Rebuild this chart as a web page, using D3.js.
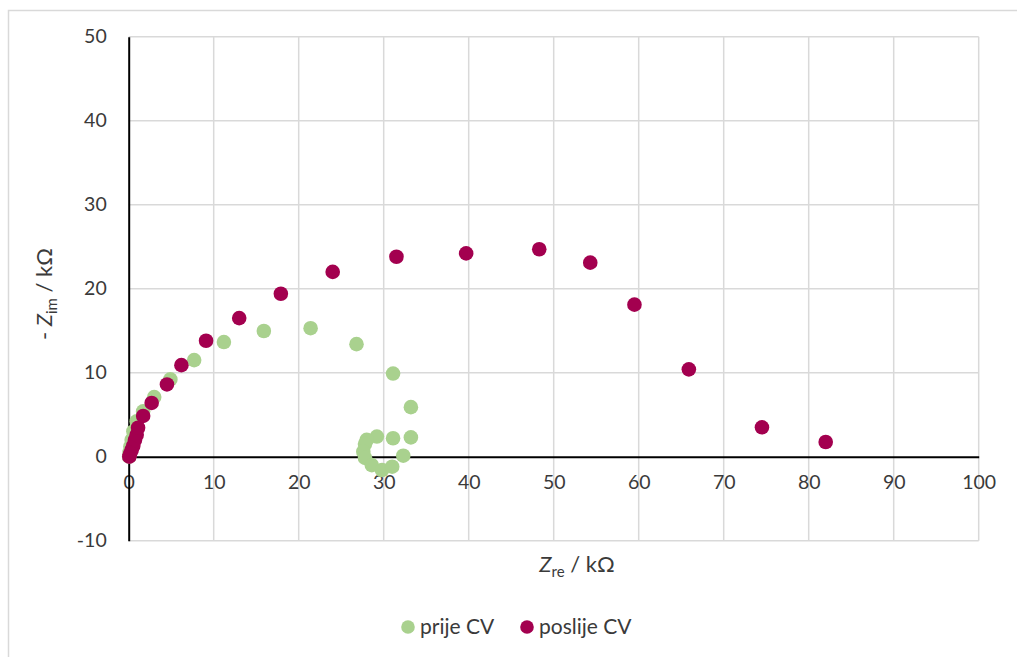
<!DOCTYPE html>
<html><head><meta charset="utf-8">
<script src="https://cdn.jsdelivr.net/npm/d3@7"></script>
<style>body{margin:0;background:#fff;font-family:Lato,"Open Sans",sans-serif}</style>
</head><body><svg id="c" width="1017" height="657"></svg>
<script>
const xTicks=[0,10,20,30,40,50,60,70,80,90,100];
const yTicks=[-10,0,10,20,30,40,50];
const seriesNames=["prije CV","poslije CV"];
const prijeX=[0.05,0.1,0.2,0.35,0.55,0.94,1.7,3.0,4.9,7.7,11.2,15.9,21.4,26.8,31.1,33.2,33.2,31.1,29.2,28.0,27.8,27.6,27.8,28.6,29.8,31.0,32.3];
const prijeY=[0.0,0.5,1.2,2.0,3.0,4.2,5.4,7.1,9.2,11.5,13.65,14.96,15.3,13.4,9.9,5.9,2.3,2.2,2.4,2.0,1.5,0.6,-0.15,-1.0,-1.58,-1.19,0.12];
const poslijeX=[0.07,0.15,0.35,0.54,0.74,0.94,1.1,1.7,2.7,4.5,6.2,9.1,13.0,17.9,24.0,31.5,39.7,48.3,54.3,59.5,65.9,74.5,82.0];
const poslijeY=[0.0,0.3,0.8,1.3,2.0,2.6,3.45,4.85,6.4,8.6,10.9,13.8,16.5,19.4,22.0,23.8,24.2,24.7,23.1,18.1,10.4,3.5,1.75];
const colors=["#a9d18e","#a3004f"];

const svg=d3.select("#c");
svg.append("rect").attr("x",8.5).attr("y",10.5).attr("width",1030).attr("height",680).attr("fill","none").attr("stroke","#d9d9d9").attr("stroke-width",1.5);

const x=d3.scaleLinear().domain([0,100]).range([128.7,978.7]);
const y=d3.scaleLinear().domain([-10,50]).range([540.7,36.7]);

const g=svg.append("g");
g.selectAll(".vg").data(xTicks.filter(d=>d>0)).join("line")
 .attr("x1",d=>x(d)).attr("x2",d=>x(d)).attr("y1",y(50)).attr("y2",y(-10))
 .attr("stroke","#d9d9d9").attr("stroke-width",1.5);
g.selectAll(".hg").data(yTicks.filter(d=>d!==0)).join("line")
 .attr("x1",x(0)).attr("x2",x(100)).attr("y1",d=>y(d)).attr("y2",d=>y(d))
 .attr("stroke","#d9d9d9").attr("stroke-width",1.5);

const fmt=d=>String(d);
const xAxis=d3.axisBottom(x).tickValues(xTicks).tickFormat(fmt).tickSize(0).tickPadding(18);
const xg=svg.append("g").attr("transform",`translate(0,${y(0)})`).call(xAxis);
xg.select(".domain").attr("stroke","#000").attr("stroke-width",2);
xg.selectAll("text").attr("font-size",19.5).attr("fill","#3a3a3a").attr("font-family","Lato,'Open Sans',sans-serif");

const yAxis=d3.axisLeft(y).tickValues(yTicks).tickFormat(fmt).tickSize(0).tickPadding(22);
const yg=svg.append("g").attr("transform",`translate(${x(0)},0)`).call(yAxis);
yg.select(".domain").attr("stroke","#000").attr("stroke-width",2);
yg.selectAll("text").attr("font-size",19.5).attr("fill","#3a3a3a").attr("font-family","Lato,'Open Sans',sans-serif");

const series=[prijeX.map((v,i)=>[v,prijeY[i]]),poslijeX.map((v,i)=>[v,poslijeY[i]])];
series.forEach((s,k)=>{
  svg.append("g").selectAll("circle").data(s).join("circle")
   .attr("cx",d=>x(d[0])).attr("cy",d=>y(d[1])).attr("r",7.3).attr("fill",colors[k]);
});

const xt=svg.append("text").attr("x",577).attr("y",572).attr("text-anchor","middle").attr("font-size",22).attr("fill","#3a3a3a");
xt.append("tspan").attr("font-style","italic").text("Z");
xt.append("tspan").attr("font-size",15).attr("dy",5).text("re");
xt.append("tspan").attr("dy",-5).text(" / kΩ");

const yt=svg.append("text").attr("transform","translate(52,294) rotate(-90)").attr("text-anchor","middle").attr("font-size",22).attr("fill","#3a3a3a");
yt.append("tspan").text("- ");
yt.append("tspan").attr("font-style","italic").text("Z");
yt.append("tspan").attr("font-size",15).attr("dy",5).text("im");
yt.append("tspan").attr("dy",-5).text(" / kΩ");

const leg=[{x:408,name:seriesNames[0],c:colors[0]},{x:527,name:seriesNames[1],c:colors[1]}];
const lg=svg.append("g").selectAll("g").data(leg).join("g");
lg.append("circle").attr("cx",d=>d.x).attr("cy",627).attr("r",6.8).attr("fill",d=>d.c);
lg.append("text").attr("x",d=>d.x+12).attr("y",634).attr("font-size",21).attr("fill","#3a3a3a").text(d=>d.name);
</script></body></html>
